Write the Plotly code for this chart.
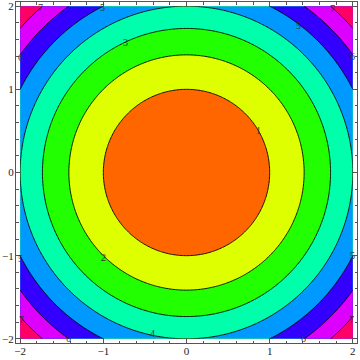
import numpy as np
import plotly.graph_objects as go

# Contour plot of f(x, y) = x^2 + y^2 over [-2, 2] x [-2, 2]
x_vals = np.linspace(-2, 2, 241)
y_vals = np.linspace(-2, 2, 241)
z_vals = x_vals[None, :] ** 2 + y_vals[:, None] ** 2

contour_levels = [1, 2, 3, 4, 5, 6, 7]
band_colors = ["#FF6600", "#DDFF00", "#22FF00", "#00FFAA",
               "#0099FF", "#3300FF", "#DD00FF", "#FF0066"]

tick_vals = [-2, -1, 0, 1, 2]
tick_text = ["\u22122", "\u22121", "0", "1", "2"]

# contour labels (level text, location on contour)
label_text = ["1", "2", "3", "4", "5", "5", "5", "5",
              "6", "6", "6", "6", "7", "7", "7", "7"]
label_x = [0.86, -1.0, -0.73, -0.41, -1.01, 1.35, -2.0, 2.0,
           -2.0, 2.0, -1.42, 1.41, -1.76, 1.76, -1.98, 1.98]
label_y = [0.5, -1.02, 1.56, -1.94, 1.98, 1.77, -1.03, -1.0,
           1.38, 1.39, -2.0, -2.0, 1.98, 1.97, -1.77, -1.77]

n = len(band_colors)
colorscale = [[k / (n - 1), c] for k, c in enumerate(band_colors)]

fig = go.Figure()
fig.add_trace(go.Contour(
    x=x_vals, y=y_vals, z=z_vals,
    contours=dict(start=contour_levels[0], end=contour_levels[-1],
                  size=1, coloring="fill", showlabels=False),
    colorscale=colorscale,
    line=dict(color="black", width=0.9, smoothing=1),
    showscale=False,
    hoverinfo="skip",
))

for t, lx, ly in zip(label_text, label_x, label_y):
    fig.add_annotation(x=lx, y=ly, text=t, showarrow=False,
                       font=dict(family="Liberation Serif", size=10, color="#333333"))

axis_common = dict(
    range=[-2.05, 2.05],
    tickvals=tick_vals, ticktext=tick_text,
    ticks="inside", ticklen=5, tickwidth=1, tickcolor="#555555",
    mirror="ticks", showline=True, linecolor="#555555", linewidth=1,
    showgrid=False, zeroline=False, automargin=False,
    minor=dict(dtick=0.2, tick0=0, ticks="inside", ticklen=2.5,
               tickcolor="#555555", showgrid=False),
    tickfont=dict(family="Liberation Serif", size=11, color="#222222"),
)

fig.update_layout(
    width=360, height=360,
    margin=dict(l=16, r=3, t=2, b=17, autoexpand=False),
    paper_bgcolor="white", plot_bgcolor="white",
    xaxis=dict(axis_common, ticklabelstandoff=-2),
    yaxis=dict(axis_common, ticklabelstandoff=-1),
    showlegend=False,
)

fig.write_html("out.html", config={"displayModeBar": False},
               post_script="document.body.style.margin='0';")
